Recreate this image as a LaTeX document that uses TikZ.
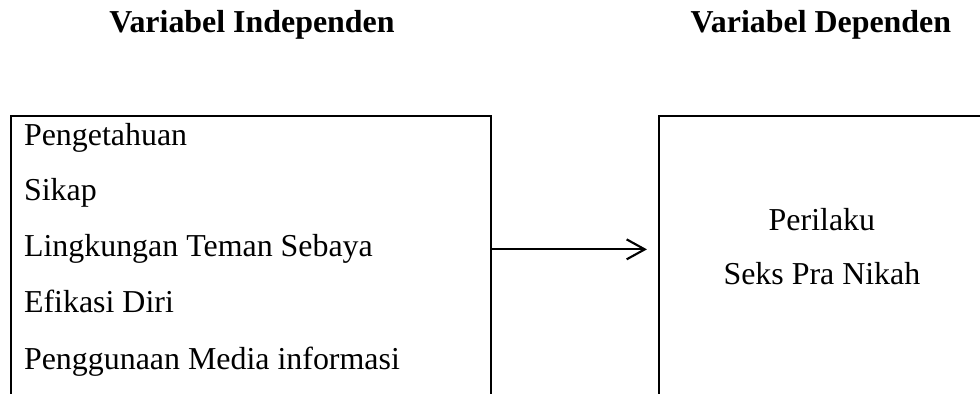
\documentclass[tikz,border=0pt]{standalone}
\usepackage{fontspec}
\setmainfont{Liberation Serif}
\usetikzlibrary{arrows.meta}

\begin{document}
\begin{tikzpicture}[line width=0.8pt,
        teks/.style={font=\fontsize{12}{14}\selectfont, inner sep=0pt},
        judul/.style={font=\fontsize{12}{14}\selectfont\bfseries, inner sep=0pt, anchor=base},
        kotak/.style={draw, inner sep=0pt, anchor=north west}]

        % page frame, the boxes run past its bottom edge
        \path[use as bounding box, clip] (0,0) rectangle (12.95,-5.206);

        \node[judul] (judulIndep) at (3.330,-0.436) {Variabel Independen};
        \node[judul] (judulDep) at (10.848,-0.436) {Variabel Dependen};

        \node[kotak, minimum width=6.342cm, minimum height=5cm] (indep) at (0.132,-1.520) {};
        \node[kotak, minimum width=6cm, minimum height=5cm] (dep) at (8.694,-1.520) {};

        
        \node[teks, anchor=base west] (baris1) at (0.304,-1.929) {Pengetahuan};
        \node[teks, anchor=base west] (baris2) at (0.304,-2.656) {Sikap};
        \node[teks, anchor=base west] (baris3) at (0.304,-3.396) {Lingkungan Teman Sebaya};
        \node[teks, anchor=base west] (baris4) at (0.304,-4.136) {Efikasi Diri};
        \node[teks, anchor=base west] (baris5) at (0.304,-4.889) {Penggunaan Media informasi};

        
        \node[teks, anchor=base] (perilaku) at (10.861,-3.052) {Perilaku};
        \node[teks, anchor=base] (seks) at (10.861,-3.766) {Seks Pra Nikah};

        
        \draw[-{Straight Barb[length=6.8pt, width=7.5pt]}, shorten >=0.145cm]
            (indep.east |- baris3.center) -- (dep.west |- baris3.center);

    \end{tikzpicture}
\end{document}
